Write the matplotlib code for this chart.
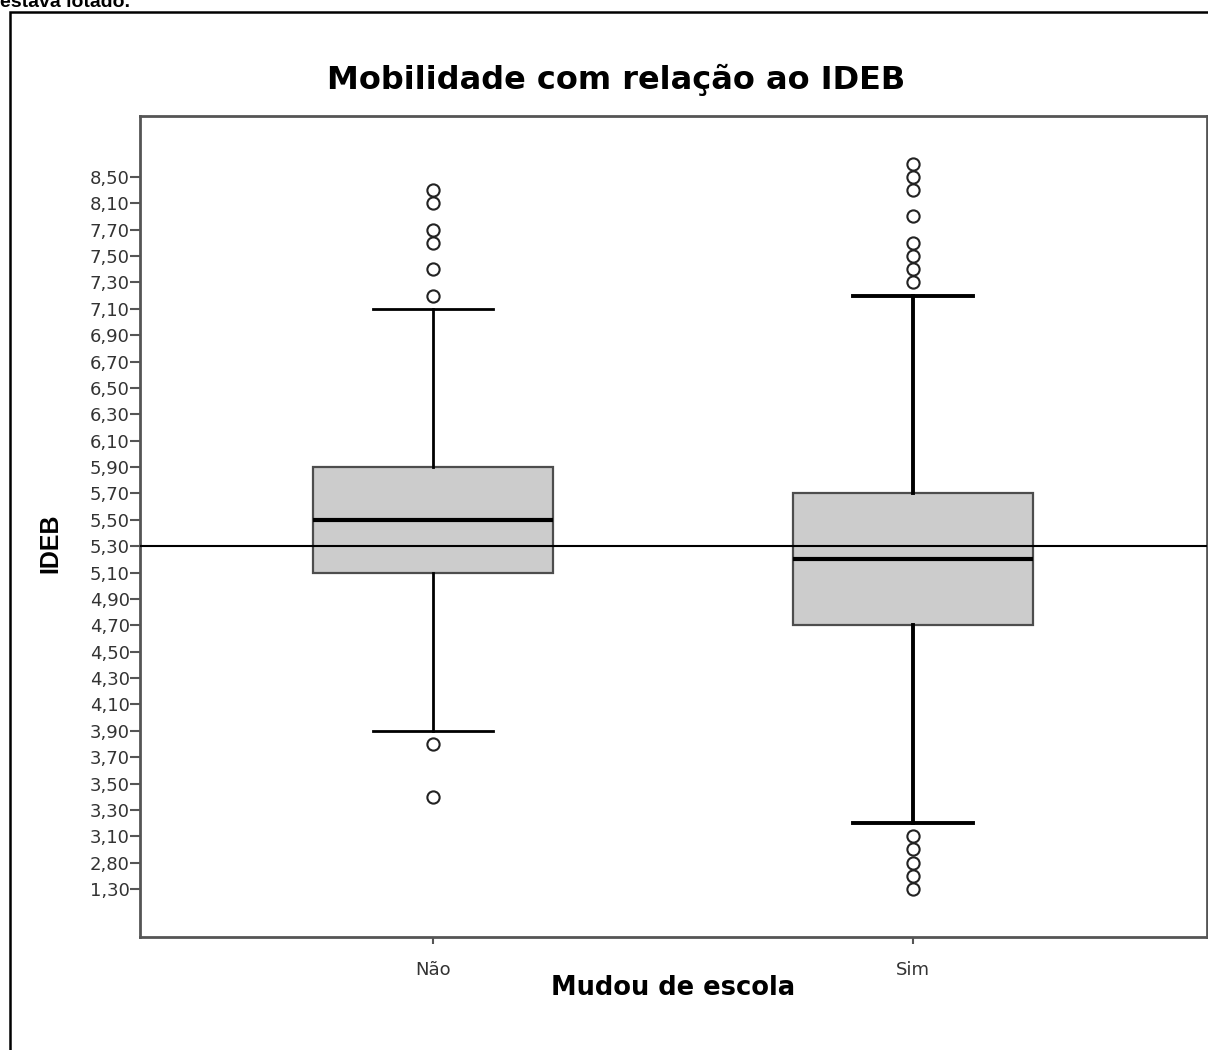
import numpy as np
import matplotlib
matplotlib.use("Agg")
import matplotlib.pyplot as plt
from matplotlib.patches import Rectangle

# y axis in the original is an ordinal-style axis: labelled values sit at equal spacing
tick_vals = [1.30, 2.80, 3.10, 3.30, 3.50, 3.70, 3.90, 4.10, 4.30, 4.50, 4.70, 4.90,
             5.10, 5.30, 5.50, 5.70, 5.90, 6.10, 6.30, 6.50, 6.70, 6.90, 7.10, 7.30,
             7.50, 7.70, 8.10, 8.50]
tick_labels = [f"{v:.2f}".replace(".", ",") for v in tick_vals]

groups = ["Não", "Sim"]
medians = [5.50, 5.20]
q1 = [5.10, 4.70]
q3 = [5.90, 5.70]
whis_lo = [3.90, 3.20]
whis_hi = [7.10, 7.20]
outliers_nao = [3.40, 3.80, 7.20, 7.40, 7.60, 7.70, 8.10, 8.30]
outliers_sim = [1.30, 2.05, 2.80, 2.95, 3.10, 7.30, 7.40, 7.50, 7.60, 7.90, 8.30, 8.50, 8.70]
ref_value = 5.30

idx = np.arange(len(tick_vals), dtype=float)
tv = np.array(tick_vals)


def fwd(v):
    v = np.asarray(v, dtype=float)
    out = np.interp(v, tv, idx)
    out = np.where(v < tv[0], (v - tv[0]) / (tv[1] - tv[0]), out)
    out = np.where(v > tv[-1], idx[-1] + (v - tv[-1]) / (tv[-1] - tv[-2]), out)
    return out


def inv(p):
    p = np.asarray(p, dtype=float)
    out = np.interp(p, idx, tv)
    out = np.where(p < 0, tv[0] + p * (tv[1] - tv[0]), out)
    out = np.where(p > idx[-1], tv[-1] + (p - idx[-1]) * (tv[-1] - tv[-2]), out)
    return out


plt.rcParams["font.family"] = ["DejaVu Sans"]

W, H = 1208, 1050
fig = plt.figure(figsize=(W / 100, H / 100), dpi=100)
ax = fig.add_axes([140 / W, 1 - 937 / H, (1207 - 140) / W, (937 - 116) / H])
ax.set_yscale("function", functions=(fwd, inv))

stats = []
for i, name in enumerate(groups):
    stats.append({"med": medians[i], "q1": q1[i], "q3": q3[i],
                  "whislo": whis_lo[i], "whishi": whis_hi[i],
                  "fliers": [outliers_nao, outliers_sim][i], "label": name})

edge = "#4d4d4d"
for i, st in enumerate(stats):
    wlw = 2.0 if i == 0 else 2.8
    ax.bxp([st], positions=[i + 1], widths=0.5, patch_artist=True,
           boxprops=dict(facecolor="#cccccc", edgecolor=edge, linewidth=1.6),
           medianprops=dict(color="black", linewidth=3),
           whiskerprops=dict(color="black", linewidth=wlw),
           capprops=dict(color="black", linewidth=wlw),
           capwidths=0.25,
           flierprops=dict(marker="o", markerfacecolor="none", markeredgecolor="#222222",
                           markersize=8.8, markeredgewidth=1.5))

ax.axhline(ref_value, color="black", linewidth=1.5, zorder=5)

ax.set_xlim(0.3896, 2.6125)
ax.set_ylim(inv(-1.82), inv(29.31))
ax.set_yticks(tick_vals)
ax.set_yticklabels(tick_labels)
ax.set_xticks([1, 2])
ax.set_xticklabels(groups)
ax.yaxis.set_minor_locator(matplotlib.ticker.NullLocator())
ax.tick_params(axis="both", direction="out", length=7, width=1.5, color="#555555",
               labelcolor="#333333", labelsize=13)
ax.tick_params(axis="y", pad=0.5)
ax.tick_params(axis="x", length=5, pad=12, labelsize=13)
for s in ax.spines.values():
    s.set_color("#555555")
    s.set_linewidth(2)

fig.text(616 / W, 1 - 80 / H, "Mobilidade com relação ao IDEB", ha="center", va="center",
         fontsize=23, fontweight="bold", color="black")
fig.text(673 / W, 1 - 988 / H, "Mudou de escola", ha="center", va="center",
         fontsize=18.5, fontweight="bold")
fig.text(50 / W, 1 - 543 / H, "IDEB", ha="center", va="center", rotation=90,
         fontsize=18, fontweight="bold", family="Liberation Sans")

# outer frame and the cut-off caption above it
fig.patches.append(Rectangle((10 / W, -0.1), 1.2, 1 - 12 / H + 0.1, transform=fig.transFigure,
                             fill=False, edgecolor="black", linewidth=1.8))
fig.text(0.0, 1 - 7 / H, "estava lotado.", ha="left", va="baseline",
         fontsize=14, fontweight="bold", family="Liberation Sans")

fig.savefig("out.png", dpi=100)
